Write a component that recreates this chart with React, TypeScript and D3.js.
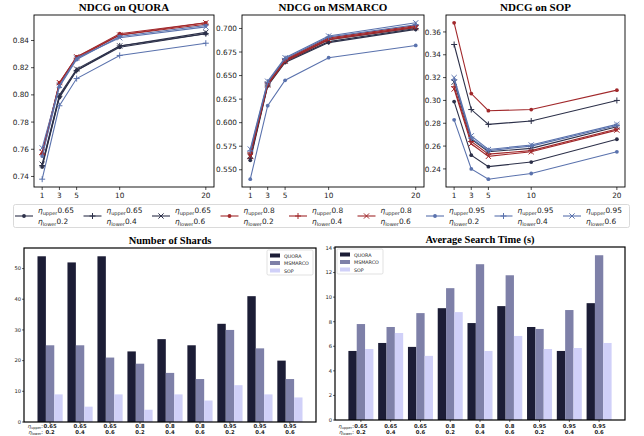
import React from "react";
import * as d3 from "d3";

const ks = [1, 3, 5, 10, 20];

// rows: 0.65/0.2, 0.65/0.4, 0.65/0.6, 0.8/0.2, ... 0.95/0.6
const quoraNdcg = [
  [0.747, 0.798, 0.818, 0.835, 0.845],
  [0.748, 0.799, 0.818, 0.836, 0.845],
  [0.749, 0.800, 0.819, 0.836, 0.846],
  [0.757, 0.809, 0.828, 0.845, 0.853],
  [0.756, 0.808, 0.827, 0.844, 0.852],
  [0.758, 0.809, 0.828, 0.844, 0.853],
  [0.755, 0.806, 0.826, 0.843, 0.851],
  [0.738, 0.792, 0.812, 0.829, 0.838],
  [0.761, 0.807, 0.827, 0.842, 0.850],
];
const msmarcoNdcg = [
  [0.560, 0.639, 0.664, 0.685, 0.699],
  [0.562, 0.640, 0.665, 0.686, 0.700],
  [0.565, 0.641, 0.666, 0.688, 0.701],
  [0.566, 0.641, 0.666, 0.689, 0.702],
  [0.568, 0.642, 0.667, 0.690, 0.703],
  [0.564, 0.640, 0.665, 0.688, 0.701],
  [0.540, 0.618, 0.645, 0.669, 0.682],
  [0.570, 0.643, 0.668, 0.691, 0.704],
  [0.572, 0.644, 0.669, 0.692, 0.706],
];
const sopNdcg = [
  [0.299, 0.252, 0.242, 0.246, 0.266],
  [0.349, 0.292, 0.279, 0.282, 0.300],
  [0.316, 0.266, 0.255, 0.258, 0.277],
  [0.368, 0.306, 0.291, 0.292, 0.309],
  [0.312, 0.264, 0.253, 0.256, 0.275],
  [0.310, 0.262, 0.251, 0.255, 0.274],
  [0.283, 0.240, 0.231, 0.236, 0.255],
  [0.318, 0.267, 0.256, 0.260, 0.278],
  [0.320, 0.269, 0.257, 0.261, 0.279],
];

const quoraTicks = [0.74, 0.76, 0.78, 0.8, 0.82, 0.84];
const msmarcoTicks = [0.55, 0.575, 0.6, 0.625, 0.65, 0.675, 0.7];
const sopTicks = [0.24, 0.26, 0.28, 0.3, 0.32, 0.34, 0.36];

const groupUpper = ["0.65", "0.65", "0.65", "0.8", "0.8", "0.8", "0.95", "0.95", "0.95"];
const groupLower = ["0.2", "0.4", "0.6", "0.2", "0.4", "0.6", "0.2", "0.4", "0.6"];
const barSeries = ["QUORA", "MSMARCO", "SOP"];
const shardsQuora = [54, 52, 54, 23, 27, 25, 32, 41, 20];
const shardsMsmarco = [25, 25, 21, 19, 16, 14, 30, 24, 14];
const shardsSop = [9, 5, 9, 4, 9, 7, 12, 9, 8];
const timeQuora = [5.62, 6.27, 5.95, 9.1, 7.89, 9.27, 7.57, 5.62, 9.51];
const timeMsmarco = [7.81, 7.57, 8.7, 10.73, 12.68, 11.78, 7.41, 8.95, 13.41];
const timeSop = [5.78, 7.08, 5.22, 8.78, 5.62, 6.84, 5.78, 5.86, 6.27];

const upperColor: Record<string, string> = { "0.65": "#2c3049", "0.8": "#a1282b", "0.95": "#5a72ad" };
const barColors = ["#1c1d36", "#7e80a8", "#d0d0f8"];

const serif = "'Liberation Serif', 'Times New Roman', serif";
const sans = "'DejaVu Sans', sans-serif";

function Marker({ kind, x, y, color }: { kind: string; x: number; y: number; color: string }) {
  if (kind === "0.2") return <circle cx={x} cy={y} r={1.9} fill={color} />;
  if (kind === "0.4")
    return <path d={`M${x - 3},${y}H${x + 3}M${x},${y - 3}V${y + 3}`} stroke={color} strokeWidth={1} />;
  return <path d={`M${x - 2.6},${y - 2.6}L${x + 2.6},${y + 2.6}M${x - 2.6},${y + 2.6}L${x + 2.6},${y - 2.6}`} stroke={color} strokeWidth={1} />;
}

function LinePanel({ title, rows, left, right, top, bottom, ticks, fmt }: any) {
  const x = d3.scaleLinear().domain([0.05, 20.95]).range([left, right]);
  const all = rows.flat();
  const lo = d3.min(all) as number;
  const hi = d3.max(all) as number;
  const pad = (hi - lo) * 0.05;
  const y = d3.scaleLinear().domain([lo - pad, hi + pad]).range([bottom, top]);
  const line = d3.line<number>().x((_, i) => x(ks[i])).y((d) => y(d));
  return (
    <g>
      <text x={(left + right) / 2} y={top - 4} textAnchor="middle" fontFamily={serif} fontWeight="bold" fontSize={11}>
        {title}
      </text>
      {rows.map((r: number[], i: number) => {
        const c = upperColor[groupUpper[i]];
        return (
          <g key={i}>
            <path d={line(r) || ""} fill="none" stroke={c} strokeWidth={1.1} />
            {r.map((v, j) => (
              <Marker key={j} kind={groupLower[i]} x={x(ks[j])} y={y(v)} color={c} />
            ))}
          </g>
        );
      })}
      <rect x={left} y={top} width={right - left} height={bottom - top} fill="none" stroke="#000" strokeWidth={0.9} />
      {ticks.map((t: number) => (
        <g key={t}>
          <line x1={left - 3} x2={left} y1={y(t)} y2={y(t)} stroke="#000" strokeWidth={0.7} />
          <text x={left - 5} y={y(t) + 2.6} textAnchor="end" fontFamily={sans} fontSize={7.3} fill="#222">
            {fmt(t)}
          </text>
        </g>
      ))}
      {ks.map((k) => (
        <g key={k}>
          <line x1={x(k)} x2={x(k)} y1={bottom} y2={bottom + 3} stroke="#000" strokeWidth={0.7} />
          <text x={x(k)} y={bottom + 11} textAnchor="middle" fontFamily={sans} fontSize={7.3} fill="#222">
            {k}
          </text>
        </g>
      ))}
    </g>
  );
}

function Eta({ x, y, sub, val, size, anchor }: any) {
  return (
    <text x={x} y={y} fontFamily={sans} fontSize={size} fill="#222" textAnchor={anchor || "start"}>
      <tspan fontStyle="italic">η</tspan>
      <tspan fontSize={size * 0.68} dy={size * 0.25}>{sub}</tspan>
      <tspan dy={-size * 0.25}>{val}</tspan>
    </text>
  );
}

function Legend() {
  const x = d3.scaleLinear().domain([0, 8]).range([15, 563]);
  return (
    <g>
      <rect x={13.5} y={204.5} width={616} height={23} rx={2} fill="#fff" stroke="#d0d0d0" strokeWidth={0.8} />
      {groupUpper.map((u, i) => {
        const c = upperColor[u];
        const x0 = x(i);
        return (
          <g key={i}>
            <line x1={x0} x2={x0 + 18} y1={216} y2={216} stroke={c} strokeWidth={1.1} />
            <Marker kind={groupLower[i]} x={x0 + 9} y={216} color={c} />
            <Eta x={x0 + 23} y={213} sub="upper" val={u} size={7.4} />
            <Eta x={x0 + 23} y={224} sub="lower" val={groupLower[i]} size={7.4} />
          </g>
        );
      })}
    </g>
  );
}

function BarPanel({ title, series, left, right, top, bottom, ticks, legendX, legendY }: any) {
  const x = d3.scaleLinear().domain([-0.87, 8.87]).range([left, right]);
  const ymax = (d3.max(series.flat()) as number) * 1.05;
  const y = d3.scaleLinear().domain([0, ymax]).range([bottom, top]);
  const w = 0.28;
  const bw = x(w) - x(0);
  const row1 = 427.5;
  const row2 = 434;
  return (
    <g>
      <text x={(left + right) / 2} y={top - 4} textAnchor="middle" fontFamily={serif} fontWeight="bold" fontSize={10.5}>
        {title}
      </text>
      {series.map((s: number[], j: number) =>
        s.map((v, i) => (
          <rect key={`${j}-${i}`} x={x(i + (j - 1) * w - w / 2)} y={y(v)} width={bw} height={bottom - y(v)} fill={barColors[j]} />
        ))
      )}
      <rect x={left} y={top} width={right - left} height={bottom - top} fill="none" stroke="#000" strokeWidth={1.2} />
      {ticks.map((t: number) => (
        <g key={t}>
          <line x1={left - 2} x2={left} y1={y(t)} y2={y(t)} stroke="#000" strokeWidth={0.6} />
          <text x={left - 3} y={y(t) + 1.8} textAnchor="end" fontFamily={sans} fontSize={5.2} fill="#222">
            {t}
          </text>
        </g>
      ))}
      {groupUpper.map((u, i) => (
        <g key={i}>
          <line x1={x(i)} x2={x(i)} y1={bottom} y2={bottom + 2} stroke="#000" strokeWidth={0.6} />
          <text x={x(i)} y={row1} textAnchor="middle" fontFamily={sans} fontSize={5.3} fontWeight="bold" fill="#222">
            {u}
          </text>
          <text x={x(i)} y={row2} textAnchor="middle" fontFamily={sans} fontSize={5.3} fontWeight="bold" fill="#222">
            {groupLower[i]}
          </text>
        </g>
      ))}
      <Eta x={x(0) - 7} y={row1} sub="upper" val=":" size={5.2} anchor="end" />
      <Eta x={x(0) - 7} y={row2} sub="lower" val=":" size={5.2} anchor="end" />
      <rect x={legendX} y={legendY} width={46} height={25} rx={1.5} fill="#fff" stroke="#ccc" strokeWidth={0.6} />
      {barSeries.map((n, j) => (
        <g key={n}>
          <rect x={legendX + 3} y={legendY + 3.5 + j * 7.5} width={10} height={4} fill={barColors[j]} />
          <text x={legendX + 17} y={legendY + 7.5 + j * 7.5} fontFamily={sans} fontSize={4.8} fill="#222">
            {n}
          </text>
        </g>
      ))}
    </g>
  );
}

export default function App() {
  const f2 = d3.format(".2f");
  const f3 = d3.format(".3f");
  return (
    <svg width={644} height={436} style={{ position: "absolute", left: 0, top: 0, background: "#fff" }}>
      <rect width={644} height={436} fill="#fff" />
      <LinePanel title="NDCG on QUORA" rows={quoraNdcg} left={34} right={214} top={15} bottom={187} ticks={quoraTicks} fmt={f2} />
      <LinePanel title="NDCG on MSMARCO" rows={msmarcoNdcg} left={242} right={424} top={15} bottom={187} ticks={msmarcoTicks} fmt={f3} />
      <LinePanel title="NDCG on SOP" rows={sopNdcg} left={446} right={625} top={15} bottom={187} ticks={sopTicks} fmt={f2} />
      <Legend />
      <BarPanel
        title="Number of Shards"
        series={[shardsQuora, shardsMsmarco, shardsSop]}
        left={24}
        right={316}
        top={248}
        bottom={422}
        ticks={[0, 10, 20, 30, 40, 50]}
        legendX={267}
        legendY={250}
      />
      <BarPanel
        title="Average Search Time (s)"
        series={[timeQuora, timeMsmarco, timeSop]}
        left={335}
        right={625}
        top={247}
        bottom={420}
        ticks={[0, 2, 4, 6, 8, 10, 12, 14]}
        legendX={337}
        legendY={249}
      />
    </svg>
  );
}
